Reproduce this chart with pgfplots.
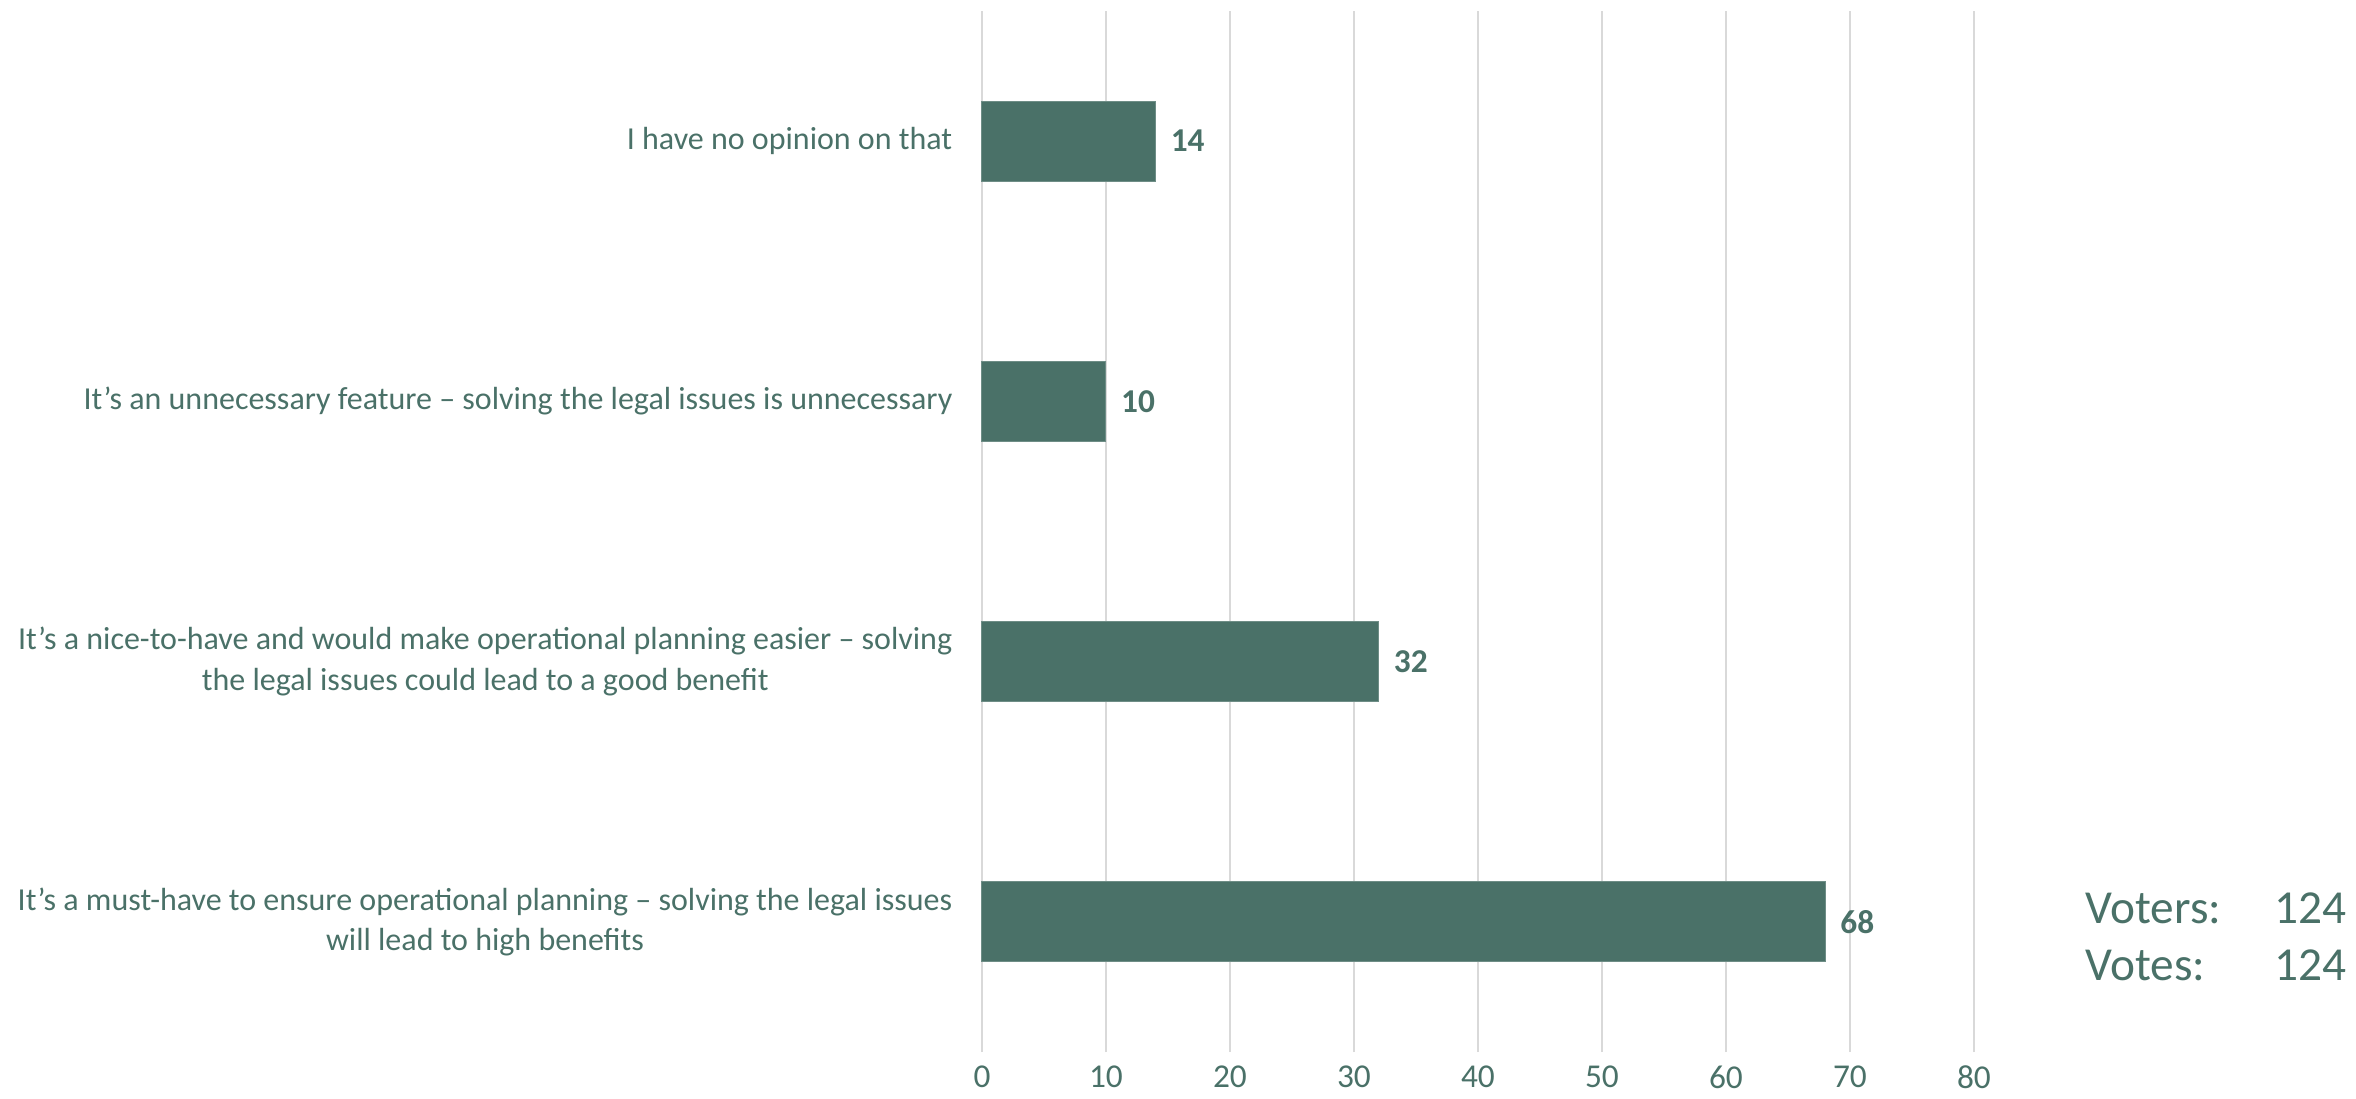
\documentclass[border=0pt]{standalone}
\usepackage{pgfplots}
\pgfplotsset{compat=1.18}
\usepackage{fontspec}
\setmainfont{Carlito}
\definecolor{barc}{RGB}{74,113,104}
\definecolor{txtc}{RGB}{74,113,104}
\definecolor{gridc}{RGB}{217,217,217}
\begin{document}
\begin{tikzpicture}
\path[use as bounding box] (-294.6pt,-13.8pt) rectangle (412.2pt,315.6pt);
\begin{axis}[
  at={(0,0)}, anchor=south west,
  width=297.6pt, height=312.3pt, scale only axis,
  xbar, bar width=24pt,
  xmin=0, xmax=80, ymin=-0.5, ymax=3.5,
  xtick={0,10,...,80},
  ytick={0,1,2,3},
  yticklabels={{It’s a must-have to ensure operational planning – solving the legal issues\\will lead to high benefits},
               {It’s a nice-to-have and would make operational planning easier – solving\\the legal issues could lead to a good benefit},
               {It’s an unnecessary feature – solving the legal issues is unnecessary},
               {I have no opinion on that}},
  yticklabel style={align=center, anchor=east, inner sep=0pt, xshift=-8.7pt, font=\fontsize{9.6}{12.2}\selectfont, text=txtc},
  xticklabel style={anchor=north, inner sep=0pt, yshift=-4pt, font=\fontsize{10}{12}\selectfont, text=txtc},
  /pgf/number format/assume math mode=true,
  major tick length=0pt,
  xmajorgrids, grid style={gridc, line width=0.75pt},
  axis lines*=left,
  x axis line style={draw=none},
  y axis line style={gridc, line width=0.75pt},
  clip=false,
  nodes near coords,
  nodes near coords style={font=\fontsize{10}{12}\selectfont\bfseries, text=txtc, anchor=west, inner sep=0pt, xshift=4.4pt},
]
\addplot[fill=barc, draw=barc!80!white, line width=0.3pt] coordinates {(68,0) (32,1) (10,2) (14,3)};
\end{axis}
\begin{scope}[every node/.style={inner sep=0pt, text=txtc, font=\fontsize{14.2}{17}\selectfont}]
\node[anchor=west] at (330.9pt,43.2pt) {Voters:};
\node[anchor=east] at (409.5pt,43.2pt) {124};
\node[anchor=west] at (330.9pt,26.1pt) {Votes:};
\node[anchor=east] at (409.5pt,26.1pt) {124};
\end{scope}
\end{tikzpicture}
\end{document}
